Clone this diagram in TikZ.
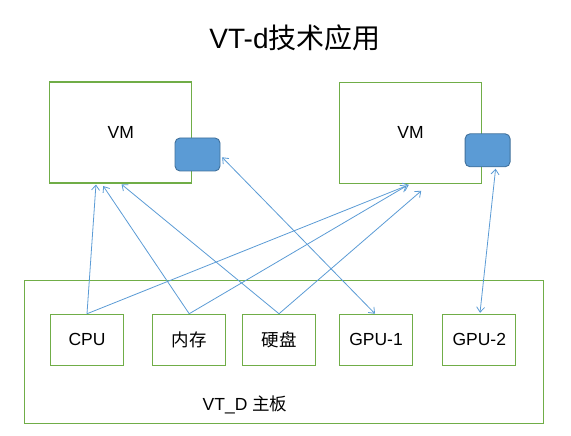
\documentclass[tikz,border=0pt]{standalone}
\usepackage{fontspec}
\setmainfont{Liberation Sans}
\newfontfamily\cjk{Noto Sans CJK SC}
\usetikzlibrary{arrows.meta}
\definecolor{grn}{HTML}{70AD47}
\definecolor{blu}{HTML}{5B9BD5}
\definecolor{bluedge}{HTML}{41719C}
\begin{document}
\begin{tikzpicture}[x=1bp,y=-1bp,
  vmbox/.style={draw=grn,line width=1.1bp,fill=white,minimum width=142bp,minimum height=101bp,inner sep=0pt,font=\fontsize{17.5bp}{20bp}\selectfont},
  port/.style={draw=bluedge,line width=0.9bp,fill=blu,rounded corners=5bp,minimum width=45bp,minimum height=33bp,inner sep=0pt},
  board/.style={draw=grn,line width=1.1bp,minimum width=519bp,minimum height=143bp,inner sep=0pt},
  part/.style={draw=grn,line width=1.1bp,fill=white,minimum width=73bp,minimum height=51bp,inner sep=0pt,font=\fontsize{17.5bp}{20bp}\selectfont},
  link/.style={draw=blu,line width=0.8bp,-{Straight Barb[length=5bp,width=8bp]}},
  dlink/.style={draw=blu,line width=0.8bp,{Straight Barb[length=5bp,width=8bp]}-{Straight Barb[length=5bp,width=8bp]}}]
\useasboundingbox (0,0) rectangle (571,436);
\node[font=\fontsize{28bp}{32bp}\selectfont] (title) at (295,38) {VT-d{\cjk 技术应用}};
\node[vmbox] (vm1) at (120.8,132.5) {VM};
\node[vmbox] (vm2) at (410.6,132.8) {VM};
\node[port] (p1) at (197.5,154.5) {};
\node[port] (p2) at (487.6,150.3) {};
\node[board] (mb) at (283.7,351.8) {};
\node[font=\fontsize{17.5bp}{20bp}\selectfont] (mblabel) at (245,405) {VT\_D {\cjk 主板}};
\node[part] (cpu) at (87,339.8) {CPU};
\node[part] (mem) at (189.2,339.8) {\cjk 内存};
\node[part] (disk) at (279,339.8) {\cjk 硬盘};
\node[part] (gpu1) at (376,339.8) {GPU-1};
\node[part] (gpu2) at (479.3,339.8) {GPU-2};
\draw[link] (cpu.north) -- ([xshift=46.7bp,yshift=-1bp]vm1.south west);
\draw[link] (cpu.north) -- ([xshift=69.8bp,yshift=-1bp]vm2.south west);
\draw[link] (mem.north) -- ([xshift=54bp,yshift=-2.5bp]vm1.south west);
\draw[link] (mem.north) -- ([xshift=67.5bp,yshift=-2bp]vm2.south west);
\draw[link] (disk.north) -- ([xshift=72.3bp,yshift=-0.8bp]vm1.south west);
\draw[link] (disk.north) -- ([xshift=82.2bp,yshift=-7bp]vm2.south west);
\draw[dlink] ([xshift=1.7bp,yshift=-2.8bp]p1.east) -- ([xshift=-1bp]gpu1.north);
\draw[dlink] ([xshift=8bp,yshift=-1.5bp]p2.south) -- ([xshift=0.7bp,yshift=1bp]gpu2.north);
\end{tikzpicture}
\end{document}
